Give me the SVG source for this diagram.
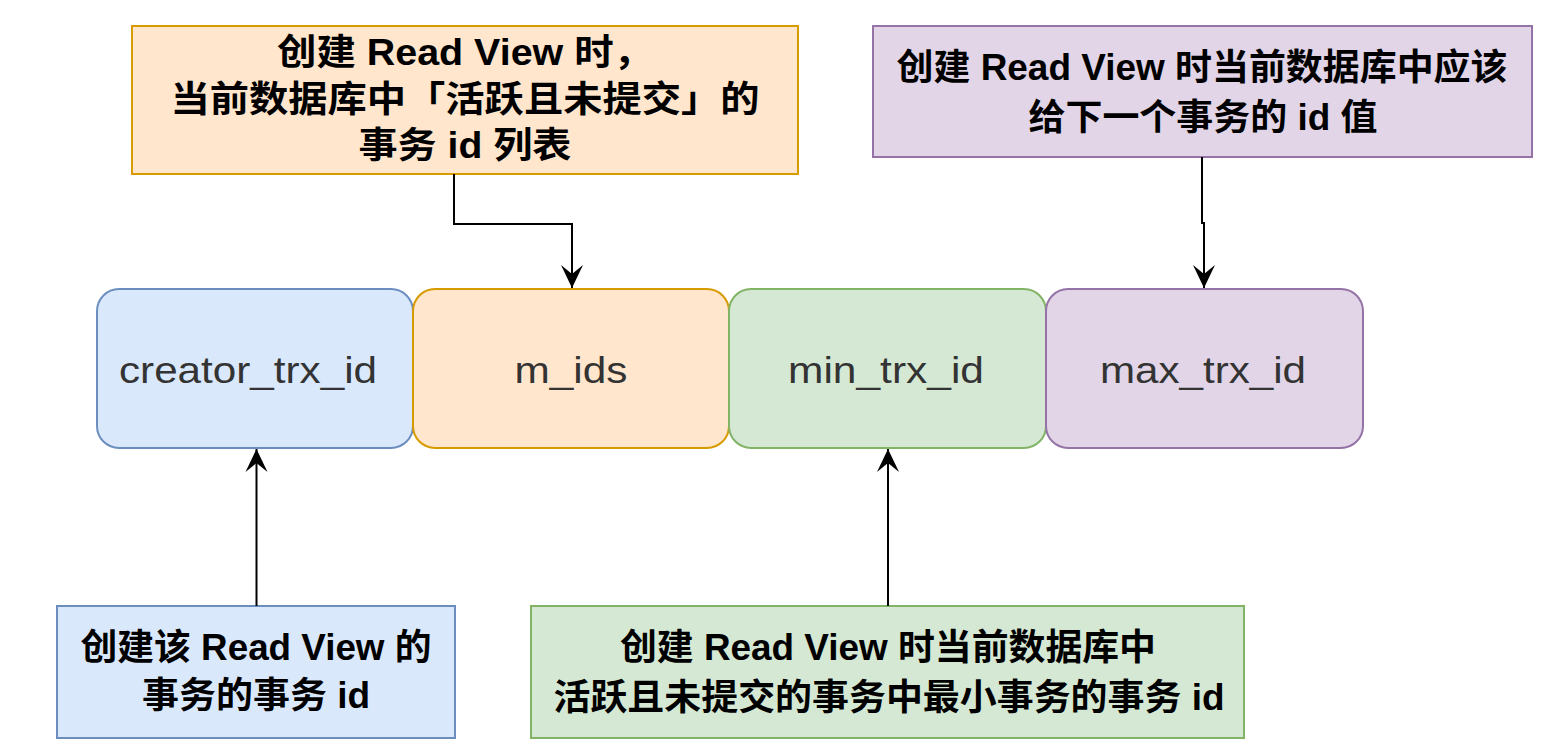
<svg xmlns="http://www.w3.org/2000/svg" width="1554" height="752" viewBox="0 0 1554 752">
<defs>
<style>
.note{font-family:"Liberation Sans","Noto Sans CJK SC",sans-serif;font-weight:bold;font-size:36px;fill:#000;text-anchor:middle}
.lbl{font-family:"Liberation Sans","Noto Sans CJK SC",sans-serif;font-size:37px;fill:#333;text-anchor:middle}
.edge{fill:none;stroke:#000;stroke-width:2}
.blue{fill:#dae8fc;stroke:#6c8ebf;stroke-width:2}
.orange{fill:#ffe6cc;stroke:#d79b00;stroke-width:2}
.green{fill:#d5e8d4;stroke:#82b366;stroke-width:2}
.purple{fill:#e1d5e7;stroke:#9673a6;stroke-width:2}
</style>
<marker id="arr" markerUnits="userSpaceOnUse" markerWidth="26" markerHeight="26" viewBox="-24 -12 26 24" refX="0" refY="0" orient="auto">
<path d="M0,0 L-23,-11 L-14,0 L-23,11 Z" fill="#000"/>
</marker>
</defs>
<rect width="1554" height="752" fill="#fff"/>

<g id="note-mids">
<rect class="orange" x="132" y="26" width="666" height="148"/>
<text class="note" x="465" y="65" textLength="376" lengthAdjust="spacingAndGlyphs">创建 Read View 时，</text>
<text class="note" x="465" y="112" textLength="589" lengthAdjust="spacingAndGlyphs">当前数据库中「活跃且未提交」的</text>
<text class="note" x="465" y="158" textLength="213" lengthAdjust="spacingAndGlyphs">事务 id 列表</text>
</g>

<g id="note-max">
<rect class="purple" x="873" y="26" width="659" height="131"/>
<text class="note" x="1202" y="80" textLength="611" lengthAdjust="spacingAndGlyphs">创建 Read View 时当前数据库中应该</text>
<text class="note" x="1203" y="130" textLength="349" lengthAdjust="spacingAndGlyphs">给下一个事务的 id 值</text>
</g>

<g id="creator">
<rect class="blue" x="97" y="289" width="316" height="159" rx="22" ry="22"/>
<text class="lbl" x="248" y="383" textLength="258" lengthAdjust="spacingAndGlyphs">creator_trx_id</text>
</g>
<g id="mids">
<rect class="orange" x="413" y="289" width="316" height="159" rx="22" ry="22"/>
<text class="lbl" x="571" y="383" textLength="113" lengthAdjust="spacingAndGlyphs">m_ids</text>
</g>
<g id="min">
<rect class="green" x="729" y="289" width="317" height="159" rx="22" ry="22"/>
<text class="lbl" x="886" y="383" textLength="196" lengthAdjust="spacingAndGlyphs">min_trx_id</text>
</g>
<g id="max">
<rect class="purple" x="1046" y="289" width="317" height="159" rx="22" ry="22"/>
<text class="lbl" x="1203" y="383" textLength="206" lengthAdjust="spacingAndGlyphs">max_trx_id</text>
</g>

<g id="note-creator">
<rect class="blue" x="57" y="606" width="398" height="132"/>
<text class="note" x="256" y="660" textLength="351" lengthAdjust="spacingAndGlyphs">创建该 Read View 的</text>
<text class="note" x="256" y="708" textLength="228" lengthAdjust="spacingAndGlyphs">事务的事务 id</text>
</g>

<g id="note-min">
<rect class="green" x="531" y="606" width="713" height="132"/>
<text class="note" x="888" y="660" textLength="536" lengthAdjust="spacingAndGlyphs">创建 Read View 时当前数据库中</text>
<text class="note" x="889" y="710" textLength="671" lengthAdjust="spacingAndGlyphs">活跃且未提交的事务中最小事务的事务 id</text>
</g>

<g id="connectors">
<path class="edge" d="M454,174 V224 H572 V288" marker-end="url(#arr)"/>
<path class="edge" d="M1202,157 V223 H1204 V288" marker-end="url(#arr)"/>
<path class="edge" d="M256.5,606 V449" marker-end="url(#arr)"/>
<path class="edge" d="M888,606 V449" marker-end="url(#arr)"/>
</g>
</svg>
